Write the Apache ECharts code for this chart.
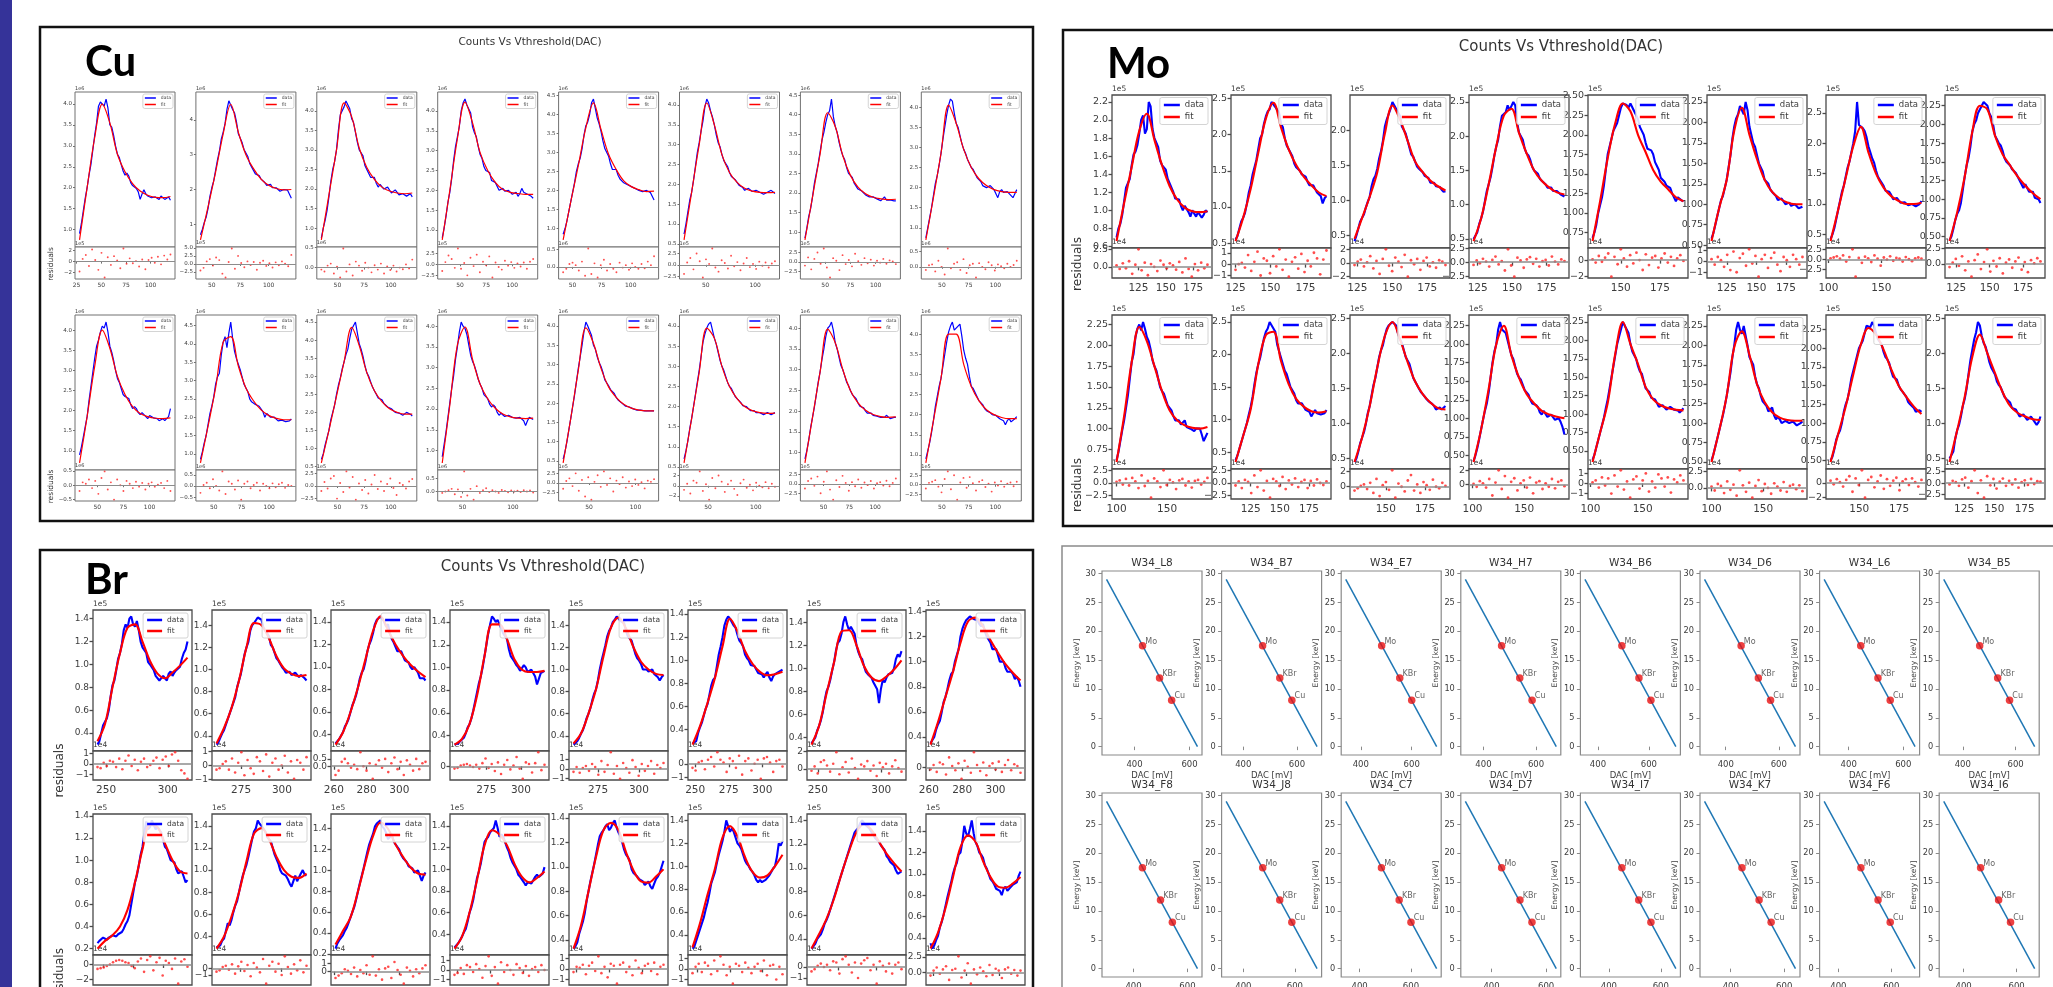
<!DOCTYPE html>
<html>
<head>
<meta charset="utf-8">
<script src="https://cdn.jsdelivr.net/npm/echarts@6/dist/echarts.min.js"></script>
<style>
html, body { margin: 0; padding: 0; background: #fff; }
#chart { width: 2053px; height: 987px; }
</style>
</head>
<body>
<div id="chart"></div>
<script>
// ---------------- Cu spectra (counts, 1e6) ----------------
const cuStart = [28, 40, 35, 33, 42, 28, 30, 35, 33, 38, 35, 30, 22, 25, 32, 35];
const cuEnd = [120, 120, 120, 120, 120, 120, 120, 120, 120, 120, 120, 120, 120, 120, 120, 120];
const cuFit = [
  [0.75,2.0,3.2,4.0,3.55,2.8,2.38,2.1,1.92,1.82,1.77,1.76,1.79],
  [0.55,1.5,2.5,3.6,4.45,3.65,3.0,2.6,2.3,2.12,2.03,1.99,2.0],
  [0.7,1.85,3.0,4.2,3.85,3.05,2.55,2.25,2.05,1.95,1.9,1.88,1.9],
  [0.75,2.0,3.3,4.22,3.7,2.95,2.5,2.2,2.02,1.95,1.92,1.9,1.9],
  [0.7,1.7,2.65,3.65,4.3,3.6,2.95,2.55,2.25,2.1,2.02,1.97,1.98],
  [0.6,1.8,3.0,4.05,3.5,2.75,2.3,2.05,1.9,1.83,1.8,1.79,1.8],
  [0.8,1.9,3.0,4.05,3.7,2.95,2.45,2.15,1.98,1.89,1.85,1.83,1.84],
  [0.7,1.75,2.85,4.05,3.6,2.95,2.5,2.22,2.05,1.95,1.9,1.88,1.88],
  [0.7,1.85,3.1,4.0,3.55,2.85,2.4,2.1,1.93,1.85,1.81,1.8,1.82],
  [0.75,1.75,2.8,4.05,4.2,3.4,2.8,2.45,2.2,2.05,1.97,1.93,1.93],
  [0.6,1.5,2.45,3.4,4.35,3.85,3.1,2.6,2.3,2.1,2.0,1.95,1.95],
  [0.7,2.1,3.55,3.98,3.2,2.6,2.25,2.02,1.88,1.81,1.78,1.77,1.78],
  [0.45,1.6,2.85,3.95,3.55,2.9,2.42,2.15,1.97,1.87,1.82,1.8,1.8],
  [0.6,1.7,2.85,3.95,3.7,3.0,2.5,2.2,2.0,1.9,1.85,1.83,1.84],
  [0.75,1.85,2.95,3.98,3.65,3.0,2.5,2.2,2.02,1.92,1.87,1.85,1.86],
  [0.8,1.85,2.9,4.0,4.0,3.25,2.7,2.35,2.12,2.0,1.93,1.9,1.9]
];
const cuData = [
  [0.9,1.15,1.45,1.75,2.0,2.3,2.55,2.9,3.25,3.55,3.95,4.05,4.05,3.95,4.12,3.9,3.5,3.45,3.25,3.0,2.8,2.72,2.55,2.4,2.3,2.35,2.28,2.12,2.05,2.05,1.98,1.9,1.72,1.85,1.95,1.85,1.8,1.82,1.76,1.8,1.78,1.75,1.72,1.8,1.78,1.72,1.74,1.78,1.7],
  [0.7,0.85,1.05,1.2,1.45,1.8,2.05,2.25,2.55,2.85,3.1,3.45,3.65,3.9,4.3,4.55,4.6,4.3,4.2,3.95,3.6,3.55,3.35,3.15,3.05,2.95,2.75,2.7,2.55,2.45,2.5,2.4,2.3,2.3,2.2,2.12,2.15,2.15,2.05,2.0,2.05,2.05,1.95,1.92,2.0,2.02,1.98,1.95,1.75],
  [0.75,1.0,1.2,1.45,1.8,2.2,2.5,2.7,3.0,3.5,3.9,3.95,4.1,4.25,4.3,4.05,3.8,3.7,3.45,3.2,3.0,3.0,2.85,2.6,2.5,2.45,2.3,2.35,2.3,2.15,2.05,2.12,2.1,2.0,1.95,2.05,2.0,1.9,1.9,1.98,1.95,1.85,1.8,1.88,1.9,1.82,1.85,1.88,1.8],
  [0.8,1.05,1.35,1.7,1.95,2.3,2.75,3.1,3.35,3.6,4.0,4.2,4.3,4.15,4.1,3.95,3.6,3.45,3.35,3.1,2.9,2.8,2.6,2.5,2.55,2.45,2.25,2.2,2.2,2.15,2.0,2.05,2.05,1.98,1.95,2.0,1.95,1.9,1.9,1.95,1.85,1.92,2.05,1.95,1.9,1.9,1.85,1.85,1.8],
  [0.85,1.0,1.2,1.45,1.7,1.95,2.2,2.5,2.7,2.85,3.1,3.45,3.7,3.8,4.0,4.3,4.4,4.15,3.9,3.75,3.55,3.3,3.1,3.05,2.9,2.7,2.55,2.6,2.55,2.4,2.3,2.3,2.2,2.15,2.15,2.15,2.1,2.05,2.05,2.05,2.0,1.95,1.97,2.02,2.0,1.95,1.95,1.9,1.75],
  [0.75,1.0,1.3,1.6,1.8,2.1,2.45,2.8,3.05,3.35,3.6,3.95,4.15,4.05,3.85,3.7,3.5,3.25,3.05,2.95,2.75,2.6,2.55,2.45,2.3,2.2,2.15,2.12,2.05,1.98,1.95,1.92,1.85,1.88,1.9,1.85,1.82,1.86,1.85,1.8,1.8,1.8,1.75,1.78,1.8,1.82,1.85,1.8,1.77],
  [0.85,1.1,1.4,1.6,1.9,2.25,2.5,2.75,3.05,3.35,3.55,3.8,4.0,4.1,4.4,3.95,3.7,3.55,3.3,3.1,2.95,2.85,2.65,2.5,2.5,2.4,2.25,2.2,2.1,2.05,2.05,2.0,1.95,1.95,1.9,1.85,1.9,1.88,1.85,1.82,1.8,1.85,1.9,1.82,1.8,1.82,1.85,1.8,1.8],
  [0.75,1.0,1.25,1.5,1.8,2.1,2.3,2.55,2.85,3.2,3.5,3.8,4.05,4.2,4.15,3.85,3.6,3.5,3.3,3.1,2.95,2.85,2.7,2.6,2.5,2.45,2.35,2.25,2.2,2.15,2.05,2.05,2.0,1.98,2.05,2.0,1.95,1.85,1.75,1.9,1.95,1.88,1.85,1.9,1.9,1.8,1.75,1.85,1.95],
  [0.9,1.1,1.35,1.6,1.85,2.25,2.6,2.95,3.3,3.6,3.75,3.95,4.1,4.05,4.2,3.95,3.6,3.45,3.25,3.0,2.8,2.7,2.55,2.4,2.35,2.38,2.3,2.15,2.05,2.1,2.05,1.95,1.9,1.95,1.95,1.85,1.8,1.88,1.9,1.82,1.8,1.8,1.75,1.78,1.8,1.75,1.75,1.85,2.05],
  [0.85,1.05,1.3,1.5,1.8,2.1,2.3,2.55,2.9,3.1,3.2,3.7,4.05,4.2,3.9,4.3,4.6,4.15,3.8,3.6,3.45,3.3,3.1,2.9,2.8,2.7,2.5,2.42,2.4,2.35,2.4,2.3,2.25,2.15,2.0,2.1,2.1,2.0,1.95,2.0,2.0,1.9,1.85,1.92,1.95,1.88,1.85,1.9,1.95],
  [0.7,0.85,1.1,1.3,1.5,1.8,2.0,2.2,2.5,2.75,2.95,3.2,3.4,3.6,3.75,4.05,4.3,4.35,4.5,4.2,3.9,3.75,3.55,3.3,3.1,3.0,2.85,2.7,2.6,2.5,2.4,2.4,2.35,2.25,2.2,2.15,2.1,2.1,2.05,2.0,2.0,1.98,1.95,1.92,1.95,2.0,2.0,1.95,1.9],
  [0.85,1.15,1.45,1.8,2.15,2.5,2.8,3.2,3.5,3.85,4.1,4.0,3.95,3.8,3.55,3.3,3.15,3.05,2.9,2.72,2.6,2.5,2.35,2.3,2.25,2.12,2.05,2.1,2.05,1.92,1.85,1.9,1.9,1.82,1.8,1.85,1.85,1.8,1.8,1.78,1.75,1.8,1.8,1.72,1.6,1.72,1.8,1.78,1.75],
  [0.55,0.75,1.0,1.3,1.6,1.9,2.2,2.55,2.9,3.2,3.5,3.85,4.1,4.0,3.95,3.75,3.5,3.4,3.2,3.05,2.95,2.8,2.6,2.55,2.45,2.35,2.3,2.25,2.15,2.08,2.05,2.0,1.95,1.92,1.9,1.9,1.88,1.85,1.85,1.82,1.8,1.82,1.85,1.8,1.8,1.8,1.78,1.8,1.8],
  [0.7,0.9,1.15,1.45,1.7,2.0,2.3,2.6,2.9,3.25,3.6,3.8,3.95,4.05,4.1,3.9,3.7,3.55,3.35,3.15,3.0,2.9,2.75,2.6,2.5,2.45,2.35,2.25,2.2,2.18,2.1,2.02,2.0,2.0,1.95,1.9,1.9,1.9,1.85,1.82,1.85,1.85,1.8,1.8,1.85,1.82,1.8,1.84,1.85],
  [0.85,1.05,1.3,1.6,1.85,2.1,2.4,2.7,2.95,3.25,3.5,3.8,4.0,4.05,4.15,3.95,3.65,3.5,3.3,3.1,3.0,2.85,2.7,2.62,2.5,2.4,2.35,2.3,2.2,2.12,2.1,2.08,2.0,1.95,1.98,1.95,1.9,1.86,1.88,1.88,1.85,1.82,1.85,1.9,1.9,1.82,1.8,1.85,1.85],
  [0.9,1.1,1.3,1.55,1.85,2.2,2.45,2.7,2.9,3.2,3.5,3.8,4.05,4.2,4.3,4.1,4.1,4.2,4.25,3.95,3.6,3.4,3.25,2.95,2.7,2.65,2.55,2.45,2.35,2.3,2.25,2.15,2.1,2.1,2.05,2.0,2.0,1.98,1.95,1.9,1.9,1.85,1.75,1.85,1.9,1.82,1.85,1.9,1.95]
];
const cuRes = [
  [-1.8,0.5,1.2,-0.8,2.2,0.3,-1.5,1.6,-2.9,0.8,-0.6,1.0,0.2,-1.2,2.4,-0.4,0.6,-0.3,0.1,-0.9,0.4,-1.4,0.3,0.7,-0.2,0.9,-0.5,1.1,0.4,1.3],
  [-2.0,-1.2,0.8,1.5,-0.5,2.0,1.2,-3.0,-4.2,0.6,4.8,-1.5,2.5,0.3,-1.0,0.8,-0.3,0.6,-1.8,0.4,1.0,-0.6,0.2,-1.1,0.5,-0.4,0.8,0.1,-0.7,2.8],
  [-0.05,-0.1,0.05,0.1,-0.15,0.02,-0.25,0.48,-0.1,0.08,-0.2,0.15,0.05,-0.08,0.12,0.0,-0.12,0.06,-0.05,0.1,-0.15,0.03,-0.06,0.05,-0.1,0.0,-0.04,0.08,-0.02,0.2],
  [-1.5,0.5,2.0,1.2,-0.8,3.6,-1.0,0.3,-2.5,1.5,-0.4,2.2,-1.8,0.6,-0.2,1.8,-3.0,0.4,-0.6,-1.2,0.8,-0.3,0.5,-0.8,0.2,-0.5,0.4,-1.0,0.6,1.2],
  [-0.15,-0.05,0.08,0.12,0.05,-0.1,0.15,-0.25,0.52,-0.2,0.1,-0.3,0.05,0.2,-0.1,0.08,-0.05,-0.15,0.12,-0.02,0.05,-0.08,0.1,0.0,-0.05,0.08,-0.04,0.15,0.05,0.3],
  [-2.0,0.5,1.5,-1.0,2.5,0.8,-2.8,1.2,0.2,3.6,-0.6,-1.5,1.0,0.4,-0.8,2.0,-0.3,0.6,-1.2,0.3,1.5,-0.5,0.2,-0.9,0.7,-0.2,0.5,-0.6,0.3,0.8],
  [-1.0,1.2,-2.0,0.8,2.5,-0.5,3.6,-1.5,-4.2,1.0,0.3,-2.2,1.8,-0.6,0.5,-1.2,2.2,0.2,-0.8,1.0,-0.4,0.6,-1.0,0.3,-0.2,0.8,-0.5,0.4,0.1,-0.6],
  [-0.1,0.05,0.08,-0.15,0.2,0.0,-0.25,0.6,-0.05,0.1,0.15,-0.1,0.25,-0.2,0.05,0.1,-0.35,0.12,0.0,-0.08,0.15,0.05,-0.12,0.08,0.02,-0.05,0.1,0.0,0.06,0.2],
  [-0.2,0.1,0.05,0.2,-0.1,0.15,-0.3,0.25,0.48,-0.15,0.1,-0.5,0.2,0.0,-0.2,0.15,0.05,-0.1,0.12,-0.05,0.08,-0.15,0.05,0.1,-0.05,0.02,0.08,-0.1,0.15,-0.2],
  [-0.3,0.05,0.15,-0.1,0.3,0.0,-0.2,0.65,-0.35,0.2,0.1,-0.15,0.25,-0.6,0.1,0.2,-0.1,0.05,0.15,-0.2,0.1,0.0,-0.1,0.12,-0.05,0.08,0.15,-0.08,0.05,0.0],
  [-1.0,0.8,-0.5,1.5,2.0,-2.5,0.6,-1.2,2.9,-0.3,1.8,-2.7,0.5,-0.8,1.2,-1.5,0.3,2.2,-0.6,0.9,-1.0,0.4,1.5,-0.4,-1.8,0.6,0.2,-0.5,0.9,1.4],
  [-0.05,0.0,0.05,0.1,-0.1,0.08,-0.2,0.75,-0.15,0.1,-0.3,0.2,-0.05,0.05,0.12,-0.02,0.05,0.0,-0.05,0.06,0.02,-0.03,0.04,0.0,0.03,-0.02,0.05,0.0,0.04,-0.04],
  [-1.5,0.5,1.2,-0.8,2.5,-2.0,0.8,-3.5,1.5,-4.3,0.3,2.0,-1.0,3.0,-0.5,1.2,-2.2,0.6,-0.3,1.5,-1.2,0.4,-0.8,0.9,-0.5,0.2,-1.4,0.6,0.3,1.0],
  [-0.8,0.4,-1.5,1.0,0.6,2.8,-1.0,0.3,-2.7,1.5,-0.5,2.0,0.8,-1.2,0.3,1.0,-0.6,-1.8,0.5,1.2,-0.4,0.2,-0.9,0.6,0.0,-0.3,0.7,-0.5,0.4,-0.2],
  [-1.2,0.8,1.5,-0.5,2.0,-2.5,0.6,3.4,-1.5,-4.2,1.0,-0.8,2.2,0.3,-1.8,0.5,-0.6,1.2,-1.0,0.4,-0.3,0.8,-1.2,0.2,0.5,-0.4,0.9,-0.6,0.3,1.5],
  [-1.0,0.5,0.8,1.2,-0.5,-2.0,1.5,3.5,-1.2,2.5,-3.9,0.6,1.8,-0.8,2.0,0.4,-1.5,0.8,1.2,-0.6,0.3,-1.8,0.6,-0.2,0.9,-0.5,0.3,0.6,-0.4,0.8]
];
const cuHalfTicks = ['0.5','1.0','1.5','2.0','2.5','3.0','3.5','4.0','4.5'];
const cuIntTicks = ['1','2','3','4','5'];
const cuYTicks = [cuHalfTicks, cuIntTicks, cuHalfTicks, cuHalfTicks, cuHalfTicks, cuHalfTicks, cuHalfTicks, cuHalfTicks,
  cuHalfTicks, cuHalfTicks, cuHalfTicks, cuHalfTicks, cuHalfTicks, cuHalfTicks, cuHalfTicks, cuHalfTicks];
const cuXTicks = [[25,50,75,100],[50,75,100],[50,75,100],[50,75,100],[50,75,100],[50,100],[25,50,75,100],[50,75,100],
  [50,75,100],[50,75,100],[50,75,100],[50,100],[50,100],[50,100],[50,75,100],[50,75,100]];
const cuResTicks = [['-2','0','2'],['-2.5','0.0','2.5','5.0'],['0.0','0.5'],['-2.5','0.0','2.5'],['0.0','0.5'],['-2.5','0.0','2.5'],['-2.5','0.0','2.5'],['0.0','0.5'],
  ['-0.5','0.0','0.5'],['-0.5','0.0','0.5'],['-2.5','0.0','2.5'],['0.0','0.5'],['-2.5','0.0','2.5'],['-2','0','2'],['-2.5','0.0','2.5'],['-2.5','0.0','2.5']];
const cuResExp = ['1e5','1e5','1e6','1e5','1e6','1e5','1e5','1e6','1e6','1e6','1e5','1e6','1e5','1e5','1e5','1e5'];

// ---------------- Mo spectra (counts, 1e5) ----------------
const moStart = [105, 125, 123, 122, 132, 112, 102, 120, 100, 112, 130, 101, 102, 100, 132, 113];
const moEnd = [188, 190, 188, 188, 190, 189, 188, 188, 190, 190, 188, 189, 189, 188, 189, 188];
const moFit = [
  [0.66,1.08,1.48,1.88,2.07,1.78,1.5,1.27,1.12,1.03,0.99,0.98,0.99],
  [0.53,0.85,1.25,1.75,2.22,2.44,2.1,1.8,1.58,1.42,1.3,1.2,1.15],
  [0.45,0.75,1.05,1.4,1.95,2.35,2.15,1.85,1.55,1.4,1.28,1.2,1.14],
  [0.47,0.8,1.3,1.85,2.3,2.4,2.05,1.75,1.5,1.35,1.25,1.18,1.15],
  [0.64,1.15,1.7,2.15,2.4,2.3,2.0,1.78,1.55,1.4,1.3,1.2,1.15],
  [0.55,0.95,1.3,1.9,2.18,1.85,1.55,1.3,1.15,1.07,1.02,1.0,1.0],
  [0.39,0.9,1.43,1.95,2.27,1.85,1.5,1.27,1.13,1.05,1.0,1.0,1.02],
  [0.44,0.82,1.3,1.9,2.25,2.2,1.85,1.6,1.45,1.3,1.18,1.08,1.0],
  [0.6,1.15,1.8,2.22,2.05,1.75,1.45,1.22,1.1,1.04,1.01,1.0,1.02],
  [0.35,0.75,1.16,1.85,2.3,2.35,1.9,1.55,1.32,1.2,1.13,1.11,1.13],
  [0.45,0.8,1.25,1.8,2.25,2.45,2.2,1.88,1.6,1.42,1.3,1.22,1.2],
  [0.41,0.85,1.4,2.0,2.25,1.85,1.55,1.33,1.2,1.1,1.05,1.02,1.0],
  [0.35,0.75,1.15,1.82,2.25,1.95,1.68,1.37,1.2,1.12,1.08,1.06,1.05],
  [0.5,0.9,1.35,1.98,2.18,1.88,1.5,1.27,1.14,1.07,1.04,1.03,1.03],
  [0.48,0.85,1.22,1.65,2.05,2.27,2.18,1.98,1.72,1.5,1.35,1.22,1.12],
  [0.45,0.9,1.38,1.95,2.27,2.0,1.72,1.45,1.25,1.15,1.1,1.06,1.05]
];
const moData = [
  [0.7,0.8,0.85,0.95,1.1,1.25,1.3,1.35,1.5,1.62,1.65,1.72,1.85,2.0,2.05,1.85,1.9,2.2,2.15,1.9,1.8,1.8,1.7,1.55,1.5,1.52,1.45,1.35,1.3,1.28,1.2,1.13,1.15,1.12,1.05,1.0,1.05,1.04,0.98,0.93,1.0,1.02,0.93,0.98,1.0,0.92,0.95,1.0,0.98],
  [0.55,0.6,0.7,0.8,0.85,0.92,1.05,1.2,1.3,1.45,1.55,1.65,1.8,1.95,2.0,2.15,2.25,2.32,2.35,2.45,2.45,2.38,2.4,2.3,2.15,2.1,1.95,1.85,1.8,1.78,1.7,1.6,1.55,1.55,1.5,1.45,1.45,1.42,1.35,1.3,1.3,1.3,1.25,1.2,1.2,1.15,1.05,1.12,1.15],
  [0.42,0.5,0.6,0.7,0.75,0.8,0.9,0.98,1.05,1.2,1.3,1.35,1.45,1.6,1.7,1.85,2.05,2.15,2.15,2.3,2.4,2.35,2.3,2.3,2.2,2.05,2.0,1.95,1.85,1.75,1.65,1.62,1.55,1.48,1.45,1.45,1.4,1.35,1.35,1.32,1.25,1.27,1.25,1.2,1.2,1.19,1.15,1.12,1.13],
  [0.5,0.52,0.6,0.72,0.8,0.9,1.05,1.2,1.3,1.4,1.55,1.72,1.85,1.95,2.15,2.3,2.3,2.35,2.45,2.38,2.4,2.5,2.45,2.2,2.05,2.05,1.95,1.82,1.75,1.72,1.65,1.55,1.5,1.5,1.45,1.38,1.35,1.35,1.3,1.25,1.25,1.25,1.2,1.18,1.2,1.18,1.15,1.14,1.12],
  [0.68,0.75,0.85,1.0,1.1,1.2,1.35,1.55,1.75,1.85,1.95,2.05,2.1,2.15,2.25,2.35,2.4,2.42,2.38,2.35,2.4,2.4,2.3,2.28,2.2,2.1,2.05,2.0,1.9,1.82,1.8,1.8,1.75,1.65,1.6,1.55,1.45,1.45,1.4,1.35,1.35,1.32,1.25,1.2,1.15,1.2,1.2,1.16,1.15],
  [0.58,0.65,0.75,0.85,0.95,1.05,1.1,1.2,1.3,1.45,1.6,1.8,1.95,2.05,2.1,2.2,2.2,2.1,2.25,2.15,1.95,1.85,1.75,1.7,1.6,1.5,1.45,1.4,1.3,1.3,1.25,1.18,1.15,1.15,1.1,1.05,1.05,1.07,1.05,1.0,1.0,1.02,0.98,0.96,1.0,1.0,0.95,0.94,0.97],
  [0.42,0.5,0.6,0.75,0.9,1.05,1.2,1.3,1.45,1.6,1.7,1.85,2.0,2.2,2.68,2.3,2.3,2.25,2.2,2.1,1.95,1.85,1.75,1.68,1.55,1.45,1.4,1.38,1.3,1.22,1.2,1.2,1.15,1.08,1.05,1.1,1.1,1.02,1.0,1.03,1.02,0.98,0.98,1.0,1.0,0.96,0.97,1.0,1.05],
  [0.45,0.5,0.6,0.72,0.8,0.85,0.95,1.12,1.3,1.45,1.55,1.7,1.9,2.0,2.05,2.15,2.2,2.22,2.3,2.3,2.25,2.15,2.1,2.0,1.85,1.8,1.75,1.72,1.65,1.55,1.5,1.5,1.45,1.4,1.4,1.35,1.3,1.28,1.2,1.15,1.2,1.15,1.1,1.12,1.1,1.02,1.0,1.0,0.95],
  [0.62,0.72,0.85,0.98,1.1,1.25,1.4,1.6,1.8,1.9,2.1,2.2,2.25,2.18,2.28,2.2,2.1,2.05,1.95,1.82,1.75,1.7,1.6,1.5,1.45,1.42,1.35,1.28,1.25,1.22,1.15,1.1,1.1,1.1,1.05,1.06,1.1,1.02,1.0,1.0,0.98,0.97,1.0,1.02,1.0,0.93,0.85,0.9,0.95],
  [0.38,0.45,0.55,0.65,0.75,0.85,0.95,1.08,1.2,1.35,1.55,1.72,1.85,1.95,2.1,2.25,2.35,2.4,2.5,2.45,2.45,2.35,2.15,2.05,1.95,1.85,1.75,1.7,1.6,1.5,1.45,1.4,1.3,1.25,1.25,1.25,1.2,1.15,1.15,1.12,1.05,1.1,1.15,1.1,1.1,1.08,1.05,1.1,1.15],
  [0.45,0.5,0.6,0.72,0.8,0.88,1.0,1.15,1.25,1.4,1.55,1.65,1.8,1.95,2.05,2.12,2.25,2.35,2.4,2.38,2.45,2.45,2.4,2.28,2.2,2.15,2.05,1.95,1.9,1.85,1.75,1.65,1.6,1.58,1.5,1.45,1.42,1.4,1.35,1.32,1.3,1.28,1.25,1.2,1.22,1.23,1.2,1.2,1.25],
  [0.42,0.5,0.6,0.72,0.85,0.98,1.1,1.2,1.35,1.55,1.75,1.9,2.0,2.2,2.3,2.2,2.2,2.15,2.05,1.95,1.85,1.8,1.7,1.6,1.55,1.52,1.45,1.38,1.35,1.32,1.25,1.2,1.2,1.18,1.15,1.08,1.05,1.1,1.1,1.02,1.0,1.05,1.05,0.98,1.0,1.0,0.95,0.88,0.78],
  [0.38,0.45,0.55,0.65,0.75,0.85,0.95,1.08,1.2,1.35,1.5,1.65,1.8,1.95,2.05,2.15,2.25,2.2,2.2,2.1,1.95,1.85,1.8,1.75,1.65,1.58,1.55,1.45,1.35,1.35,1.3,1.22,1.2,1.2,1.15,1.1,1.1,1.12,1.1,1.06,1.05,1.1,1.1,1.06,1.05,1.05,1.02,1.04,1.08],
  [0.52,0.6,0.7,0.8,0.9,1.0,1.1,1.22,1.35,1.5,1.65,1.85,2.0,2.2,2.3,2.2,2.15,2.25,2.25,2.0,1.85,1.85,1.75,1.6,1.5,1.45,1.35,1.28,1.25,1.22,1.15,1.15,1.2,1.1,1.05,1.08,1.05,1.0,1.0,1.03,1.05,1.0,0.98,1.02,1.02,0.97,0.95,1.0,1.02],
  [0.5,0.55,0.65,0.78,0.85,0.9,1.0,1.15,1.25,1.32,1.45,1.6,1.7,1.8,1.9,2.0,2.05,2.1,2.2,2.3,2.3,2.28,2.35,2.3,2.2,2.12,2.1,2.05,1.95,1.88,1.85,1.8,1.7,1.62,1.6,1.58,1.5,1.45,1.42,1.4,1.35,1.28,1.25,1.25,1.2,1.15,1.15,1.17,1.15],
  [0.5,0.52,0.6,0.78,0.9,0.98,1.1,1.25,1.35,1.5,1.7,1.9,2.05,2.2,2.3,2.45,2.4,2.25,2.15,2.1,2.0,1.88,1.8,1.78,1.7,1.6,1.55,1.52,1.45,1.38,1.35,1.35,1.3,1.22,1.2,1.2,1.15,1.1,1.1,1.13,1.12,1.05,1.05,1.1,1.08,1.02,0.98,1.02,1.1]
];
const moRes = [
  [0.2,-0.3,0.5,-0.2,0.8,-1.0,0.3,2.5,-0.5,0.6,-1.2,0.4,0.0,-0.6,0.9,0.3,-0.2,0.5,0.2,-0.4,0.7,-0.8,1.2,-0.3,-1.4,0.4,-0.5,0.6,-0.2,0.3],
  [-0.5,0.0,0.1,-0.3,0.8,-0.6,0.2,1.1,-1.0,0.5,0.3,-0.8,0.7,-0.2,1.3,-0.5,0.4,-1.1,0.2,0.6,-0.4,0.9,-0.7,0.3,-0.2,1.0,0.5,-0.9,0.4,1.2],
  [-0.3,0.2,0.5,-0.5,0.1,1.0,-0.8,0.3,-1.6,0.6,2.0,-0.4,-1.2,0.8,0.2,-0.6,1.2,-2.0,0.4,-0.2,0.6,-1.0,0.3,0.8,-0.5,0.1,-0.7,0.4,0.2,-0.3],
  [-0.5,0.3,-0.2,0.6,0.1,-0.8,0.4,1.0,-0.4,0.2,-1.5,2.3,-0.6,-2.6,0.8,0.3,-1.0,0.5,0.9,-0.3,0.6,-0.8,0.2,0.4,-0.6,1.0,0.1,-0.4,0.5,0.2],
  [0.1,-0.3,0.5,-0.2,0.3,0.8,-2.0,0.4,-0.5,1.3,0.2,-0.8,0.6,-0.4,0.9,0.0,-1.2,0.7,-0.6,0.3,0.5,-0.9,0.2,0.8,-0.3,0.4,-0.7,0.2,0.6,-0.1],
  [0.2,-0.3,0.4,0.1,-0.5,0.6,-0.8,0.9,-1.0,0.3,0.7,-0.4,1.1,-0.2,0.5,-1.4,0.2,0.6,-0.6,0.3,0.8,-0.3,-0.9,0.4,0.1,-0.5,0.6,0.2,-0.3,0.4],
  [0.3,0.5,0.8,0.2,1.0,-0.5,0.6,2.5,-4.2,0.4,-0.8,0.7,0.3,-0.6,1.0,0.2,-1.5,0.5,0.0,0.8,-0.3,0.4,0.2,-0.5,0.6,0.1,-0.4,0.3,0.5,0.2],
  [-0.5,0.2,0.8,-0.3,1.2,-1.0,0.4,-2.0,0.6,1.5,-0.8,0.3,2.3,-1.2,0.5,-0.4,0.9,-1.5,0.2,0.7,-0.6,0.4,1.0,-0.9,0.3,-1.3,0.6,0.1,0.9,0.4],
  [0.2,0.5,-0.3,0.8,-0.5,1.0,0.3,-1.0,1.5,-0.6,0.4,-2.9,0.9,0.3,-0.8,2.5,-0.4,0.6,0.1,-1.2,0.5,0.8,-0.5,0.3,-0.9,0.4,0.6,-0.3,0.2,1.0],
  [-0.5,0.3,-1.0,0.6,0.2,-2.0,1.5,-0.8,2.5,-1.5,0.4,-2.9,0.8,0.3,-0.6,1.2,-1.2,0.5,-0.3,0.9,-0.8,0.2,0.6,-1.0,0.4,-0.5,0.7,0.0,-0.4,0.3],
  [-0.5,-0.2,0.1,0.3,-0.3,0.5,-0.8,1.0,-1.2,0.2,0.6,-0.4,2.1,-1.4,0.4,0.0,-0.6,0.8,1.5,-0.5,0.3,-0.8,0.6,0.2,-0.4,0.9,0.0,-0.2,0.5,0.1],
  [0.1,-0.3,0.5,0.2,-0.4,0.8,-1.5,0.3,2.0,-0.6,1.2,-1.8,0.4,0.9,-0.8,0.2,0.6,-0.4,1.0,-1.2,0.3,0.5,-0.6,0.2,-0.3,0.8,-0.5,0.4,0.6,-0.2],
  [0.1,0.3,-0.4,0.6,-0.2,0.5,-1.0,0.8,-0.3,1.3,-0.6,0.2,-1.4,0.4,0.7,-0.5,0.3,1.0,-0.8,0.2,-0.4,0.9,0.5,-0.3,0.6,-0.9,0.4,0.1,0.8,0.3],
  [0.2,-0.4,0.6,0.3,-0.8,1.0,-0.3,0.5,-1.2,2.7,0.4,-0.6,0.8,-1.5,0.3,1.2,-0.5,0.6,0.0,-0.9,0.7,0.2,-0.4,0.9,-0.6,0.3,0.5,-0.2,0.4,-0.5],
  [0.3,-0.2,0.5,0.1,-0.5,0.4,0.9,-1.2,0.6,-0.3,1.7,-2.0,0.4,0.8,-0.6,0.2,1.0,-0.8,0.5,-0.4,0.3,0.7,-1.0,0.2,0.5,-0.3,0.6,0.1,-0.5,0.4],
  [-0.3,0.5,0.2,-0.6,0.8,1.2,-1.0,0.4,2.8,-2.2,0.6,-3.2,1.5,-0.5,0.9,-1.2,0.3,1.0,-0.6,0.5,-0.3,0.8,-1.0,0.2,0.6,-0.4,0.9,-0.2,0.4,0.3]
];
const moFifthTicks = ['0.5','1.0','1.5','2.0','2.5'];
const moTenthTicks = ['0.6','0.8','1.0','1.2','1.4','1.6','1.8','2.0','2.2','2.4'];
const moQuarterTicks = ['0.25','0.50','0.75','1.00','1.25','1.50','1.75','2.00','2.25','2.50'];
const moYTicks = [moTenthTicks, moFifthTicks, moFifthTicks, moFifthTicks, moQuarterTicks, moQuarterTicks, moFifthTicks, moQuarterTicks,
  moQuarterTicks, moFifthTicks, moFifthTicks, moQuarterTicks, moQuarterTicks, moQuarterTicks, moQuarterTicks, moFifthTicks];
const moXTicks = [[125,150,175],[125,150,175],[125,150,175],[125,150,175],[150,175],[125,150,175],[100,150],[125,150,175],
  [100,150],[125,150,175],[150,175],[100,150],[100,150],[100,150],[150,175],[125,150,175]];
const moResTicks = [['0.0','2.5'],['-1','0','1'],['-2','0','2'],['-2.5','0.0','2.5'],['-2','0'],['-1','0','1'],['-2.5','0.0','2.5'],['0.0','2.5'],
  ['-2.5','0.0','2.5'],['-2.5','0.0','2.5'],['0','2'],['0','2'],['-1','0','1'],['0.0','2.5'],['-2','0'],['-2.5','0.0','2.5']];
const moResExp = ['1e4','1e4','1e4','1e4','1e4','1e4','1e4','1e4','1e4','1e4','1e4','1e4','1e4','1e4','1e4','1e4'];

// ---------------- Br spectra (counts, 1e5) ----------------
const brStart = [243, 260, 261, 252, 260, 248, 245, 261, 256, 260, 261, 248, 248, 246, 258, 248];
const brEnd = [316, 315, 316, 317, 315, 315, 316, 315, 316, 316, 316, 316, 316, 316, 316, 316];
const brFit = [
  [0.33,0.48,0.8,1.1,1.32,1.35,1.2,1.03,0.92,0.88,0.93,0.99,1.06],
  [0.33,0.47,0.65,0.9,1.2,1.42,1.4,1.28,1.12,1.01,0.96,0.94,0.95],
  [0.31,0.42,0.6,0.82,1.07,1.32,1.45,1.33,1.2,1.1,1.02,0.96,0.91],
  [0.32,0.37,0.5,0.75,1.1,1.38,1.38,1.25,1.07,0.98,0.96,0.96,0.97],
  [0.33,0.42,0.6,0.82,1.12,1.38,1.47,1.37,1.2,1.07,1.0,0.96,0.95],
  [0.27,0.43,0.63,0.85,1.12,1.36,1.25,1.08,0.97,0.9,0.87,0.88,0.9],
  [0.34,0.5,0.78,1.05,1.32,1.33,1.2,1.02,0.92,0.89,0.93,0.99,1.07],
  [0.34,0.52,0.72,0.92,1.15,1.32,1.35,1.28,1.17,1.07,0.98,0.91,0.85],
  [0.2,0.27,0.32,0.4,0.55,0.8,1.1,1.32,1.3,1.15,1.0,0.9,0.88],
  [0.29,0.4,0.58,0.8,1.08,1.33,1.38,1.28,1.12,1.0,0.94,0.93,0.97],
  [0.29,0.42,0.55,0.8,1.08,1.33,1.46,1.4,1.25,1.13,1.03,0.97,0.96],
  [0.27,0.38,0.6,0.9,1.22,1.36,1.32,1.22,1.05,0.93,0.88,0.92,0.98],
  [0.33,0.52,0.8,1.08,1.3,1.36,1.3,1.12,0.97,0.88,0.87,0.92,0.98],
  [0.29,0.5,0.75,0.98,1.25,1.35,1.26,1.08,0.95,0.9,0.92,1.0,1.1],
  [0.32,0.44,0.57,0.74,0.95,1.14,1.3,1.37,1.32,1.22,1.12,1.04,0.97],
  [0.3,0.45,0.68,0.97,1.25,1.36,1.3,1.12,0.97,0.88,0.87,0.91,0.97]
];
const brData = [
  [0.3,0.33,0.4,0.47,0.5,0.53,0.6,0.72,0.82,0.86,0.95,1.05,1.1,1.18,1.3,1.35,1.32,1.4,1.42,1.35,1.33,1.38,1.3,1.2,1.15,1.15,1.1,1.02,1.0,1.0,0.95,0.9,0.9,0.86,0.85,0.9,0.88,0.86,0.92,0.94,0.9,0.93,0.95,0.94,0.98,1.05,1.1,1.13,1.2],
  [0.32,0.34,0.38,0.42,0.45,0.5,0.55,0.6,0.65,0.7,0.75,0.84,0.9,0.96,1.05,1.14,1.2,1.25,1.35,1.4,1.42,1.43,1.47,1.48,1.45,1.38,1.35,1.33,1.3,1.22,1.2,1.15,1.1,1.08,1.05,1.02,1.0,0.97,0.98,0.98,0.95,0.94,0.97,0.96,0.93,0.95,0.96,0.92,0.9],
  [0.32,0.33,0.36,0.39,0.42,0.47,0.5,0.54,0.6,0.66,0.7,0.75,0.82,0.9,0.95,0.98,1.05,1.14,1.2,1.24,1.3,1.38,1.42,1.43,1.45,1.44,1.4,1.36,1.38,1.3,1.25,1.22,1.18,1.14,1.15,1.14,1.1,1.06,1.05,1.04,1.0,0.98,1.0,0.99,0.95,0.9,0.9,0.9,0.88],
  [0.32,0.32,0.33,0.35,0.36,0.38,0.42,0.47,0.5,0.55,0.62,0.7,0.78,0.86,0.92,1.0,1.1,1.2,1.3,1.38,1.45,1.43,1.4,1.42,1.38,1.34,1.3,1.3,1.25,1.16,1.1,1.1,1.05,1.02,1.0,0.97,0.98,1.02,1.0,0.96,0.95,0.98,0.98,0.92,0.85,0.9,0.95,0.94,0.97],
  [0.32,0.33,0.35,0.38,0.42,0.45,0.5,0.56,0.6,0.65,0.72,0.78,0.82,0.9,1.0,1.08,1.15,1.22,1.3,1.35,1.38,1.43,1.45,1.48,1.47,1.44,1.45,1.42,1.35,1.3,1.3,1.26,1.2,1.14,1.1,1.08,1.05,1.0,1.0,1.0,0.98,0.97,1.0,0.96,0.95,0.93,0.9,0.93,0.95],
  [0.28,0.27,0.3,0.37,0.42,0.46,0.52,0.58,0.62,0.7,0.78,0.83,0.85,0.95,1.05,1.12,1.2,1.3,1.35,1.38,1.36,1.35,1.3,1.28,1.22,1.17,1.15,1.12,1.05,1.02,1.0,0.96,0.95,0.95,0.92,0.89,0.9,0.88,0.85,0.88,0.9,0.85,0.82,0.86,0.88,0.88,0.9,0.9,0.92],
  [0.35,0.36,0.4,0.46,0.5,0.55,0.62,0.72,0.8,0.84,0.9,0.98,1.05,1.15,1.22,1.24,1.3,1.4,1.45,1.38,1.33,1.36,1.35,1.3,1.2,1.14,1.1,1.08,1.02,0.97,0.95,0.95,0.92,0.88,0.88,0.82,0.7,0.82,0.9,0.88,0.92,0.95,0.95,0.96,1.0,1.08,1.12,1.1,1.15],
  [0.35,0.36,0.4,0.46,0.5,0.53,0.6,0.68,0.72,0.78,0.85,0.9,0.92,1.0,1.05,1.1,1.2,1.26,1.3,1.33,1.32,1.36,1.36,1.34,1.35,1.33,1.3,1.28,1.3,1.24,1.2,1.2,1.15,1.1,1.1,1.1,1.05,1.0,1.0,1.0,0.95,0.92,0.92,0.92,0.9,0.86,0.88,0.85,0.8],
  [0.25,0.27,0.28,0.3,0.29,0.28,0.3,0.31,0.32,0.33,0.31,0.33,0.34,0.35,0.38,0.42,0.45,0.5,0.6,0.7,0.8,0.86,0.95,1.05,1.12,1.25,1.35,1.28,1.3,1.36,1.32,1.28,1.3,1.3,1.25,1.18,1.12,1.1,1.05,1.0,1.0,0.98,0.92,0.88,0.88,0.9,0.85,0.8,0.82],
  [0.3,0.3,0.32,0.36,0.38,0.45,0.52,0.5,0.55,0.62,0.68,0.72,0.8,0.88,0.95,1.0,1.05,1.12,1.2,1.28,1.35,1.38,1.45,1.42,1.4,1.4,1.35,1.3,1.3,1.26,1.2,1.14,1.1,1.06,1.0,0.97,0.98,0.95,0.92,0.88,0.85,0.9,0.95,0.9,0.9,0.97,1.0,0.96,0.95],
  [0.25,0.3,0.33,0.34,0.38,0.42,0.45,0.5,0.55,0.6,0.65,0.72,0.8,0.88,0.95,1.02,1.1,1.18,1.25,1.3,1.35,1.42,1.45,1.45,1.48,1.42,1.4,1.36,1.3,1.32,1.35,1.28,1.25,1.24,1.2,1.15,1.12,1.1,1.08,1.04,1.05,1.02,0.98,0.97,1.0,0.95,0.9,0.95,0.98],
  [0.28,0.29,0.32,0.35,0.38,0.42,0.45,0.52,0.6,0.65,0.72,0.82,0.92,0.98,1.05,1.15,1.25,1.28,1.3,1.34,1.35,1.38,1.45,1.38,1.3,1.32,1.3,1.25,1.2,1.16,1.1,1.06,1.05,1.0,0.95,0.93,0.92,0.88,0.85,0.88,0.88,0.87,0.9,0.93,0.95,0.93,0.92,0.96,1.02],
  [0.33,0.35,0.38,0.45,0.5,0.55,0.62,0.72,0.8,0.88,0.95,1.02,1.1,1.18,1.25,1.28,1.3,1.33,1.35,1.3,1.32,1.36,1.38,1.32,1.28,1.25,1.2,1.14,1.1,1.08,1.05,0.98,0.95,0.94,0.92,0.9,0.9,0.88,0.85,0.86,0.88,0.84,0.82,0.86,0.9,0.92,0.95,1.0,1.05],
  [0.28,0.3,0.35,0.4,0.45,0.5,0.55,0.62,0.68,0.76,0.85,0.9,0.95,1.03,1.1,1.16,1.22,1.3,1.4,1.35,1.3,1.33,1.3,1.25,1.2,1.18,1.15,1.1,1.05,1.02,1.0,0.97,0.95,0.92,0.88,0.86,0.88,0.86,0.85,0.88,0.9,0.92,0.95,0.98,1.0,1.08,1.2,1.18,1.22],
  [0.32,0.33,0.36,0.4,0.42,0.44,0.48,0.53,0.56,0.6,0.65,0.7,0.75,0.8,0.85,0.9,0.95,1.0,1.05,1.1,1.15,1.2,1.25,1.3,1.32,1.34,1.38,1.4,1.38,1.36,1.35,1.33,1.3,1.28,1.25,1.24,1.22,1.19,1.18,1.15,1.1,1.08,1.05,1.04,1.02,0.98,0.95,0.96,0.97],
  [0.35,0.3,0.33,0.38,0.42,0.5,0.55,0.62,0.7,0.78,0.85,0.92,1.0,1.06,1.1,1.18,1.2,1.3,1.45,1.38,1.35,1.42,1.5,1.38,1.3,1.26,1.2,1.18,1.15,1.08,1.05,1.0,0.95,0.93,0.9,0.86,0.85,0.84,0.8,0.86,0.88,0.84,0.85,0.88,0.9,0.9,0.92,0.98,1.02]
];
const brRes = [
  [-0.3,-0.4,0.1,-0.2,0.3,0.2,-0.3,0.5,-0.5,0.3,0.8,-0.2,0.4,-0.6,0.2,0.5,-0.3,-0.1,0.3,0.6,-0.4,0.4,0.7,-0.2,0.9,1.1,0.3,-0.6,-0.9,-1.4],
  [-0.3,-0.2,0.1,0.3,-0.3,0.5,-0.5,0.2,0.95,-0.7,0.4,-0.2,-0.6,0.6,0.3,-0.4,0.8,-0.8,0.2,0.5,-0.3,0.0,0.7,-0.5,0.3,-0.95,0.4,0.2,-0.3,0.6],
  [-0.6,-0.3,0.3,0.5,0.2,-0.1,0.1,-0.2,0.95,0.0,-0.3,0.2,-0.85,0.1,0.4,-0.1,0.5,-0.4,0.2,0.6,-0.2,0.3,-0.6,0.4,0.1,-0.3,0.5,-0.2,0.2,0.3],
  [-0.3,-0.2,0.1,0.2,0.3,0.1,-0.1,0.2,-0.3,0.4,1.0,-0.2,0.3,-0.6,0.5,-1.0,0.2,0.8,-0.4,0.1,1.2,-0.3,-1.6,0.5,0.3,-0.8,0.4,1.8,-0.5,0.2],
  [-0.3,0.2,-0.4,0.1,0.3,-0.2,0.5,0.2,-0.6,0.8,-0.3,0.4,1.7,-0.5,0.3,-1.0,0.6,0.1,-0.4,0.9,0.2,-0.7,0.5,-0.2,0.3,0.8,-0.5,0.4,0.1,0.6],
  [-0.3,-0.5,0.1,0.2,-0.4,0.3,0.5,-0.2,0.85,0.3,0.1,-0.6,0.4,0.2,-0.3,0.6,-0.8,0.2,0.4,-0.5,0.0,0.3,-1.1,0.4,0.5,0.1,-0.6,0.2,0.3,-0.2],
  [-0.2,0.3,-0.5,0.8,1.0,0.4,-0.3,0.6,1.9,-0.6,0.2,0.8,-0.4,1.2,0.1,-1.1,0.5,0.3,0.9,-0.2,0.4,-0.8,0.7,0.2,0.6,-0.5,0.3,1.0,0.1,-0.3],
  [-0.2,0.3,-0.5,0.6,0.4,-0.8,1.2,0.2,-0.3,0.5,-1.3,0.8,0.1,-0.6,1.8,0.3,-0.4,0.6,-0.9,0.2,0.5,-0.2,0.7,-0.5,0.3,0.9,-0.3,0.4,0.2,-0.6],
  [-0.6,-0.5,-0.4,-0.2,0.0,0.3,0.5,0.6,0.5,0.3,0.2,-0.2,-0.5,0.4,0.8,-1.0,0.6,1.1,-0.8,0.3,0.9,-1.5,0.5,0.2,-0.6,0.8,-2.6,0.4,0.7,-0.3],
  [-0.5,-0.3,0.2,0.4,-0.2,0.6,-0.8,0.3,1.0,-0.4,0.5,-1.2,0.8,0.1,-0.6,1.4,-2.3,0.4,1.0,-0.5,0.7,-1.0,1.8,0.2,-0.8,0.6,-0.3,1.2,-0.6,0.4],
  [-0.8,-0.5,-0.2,0.3,0.1,-0.3,0.5,-0.6,0.2,-0.2,0.8,-0.4,1.9,-0.5,0.3,-1.0,0.4,0.6,-0.8,1.2,0.2,-0.4,-1.5,0.5,0.1,-0.6,0.3,-0.2,0.4,0.8],
  [-0.5,-0.3,0.2,-0.4,0.5,0.3,-0.2,0.6,0.1,-0.8,0.4,1.4,-0.6,0.3,-1.4,0.8,-0.2,0.5,0.0,-0.5,0.6,0.2,-0.3,0.4,-0.6,0.1,0.3,-0.2,0.5,0.0],
  [-0.3,0.2,0.1,0.4,-0.5,0.3,0.6,-0.2,1.2,-0.4,0.2,-0.8,0.5,0.3,-1.4,0.4,0.6,-0.3,0.2,-0.6,0.8,0.1,-0.4,0.3,0.5,-0.2,0.6,-0.5,0.2,0.4],
  [-0.4,0.2,0.5,-0.3,0.6,0.3,-0.5,0.8,-0.2,1.2,0.4,-0.6,0.2,-1.4,0.5,0.3,-0.3,0.6,0.1,-0.4,0.2,0.5,-0.2,0.8,-0.6,0.3,0.4,-1.0,0.2,-0.5],
  [-0.4,-0.2,0.1,0.3,0.0,0.2,-0.3,0.5,0.4,-0.6,0.7,0.95,0.2,-0.5,0.4,-1.0,0.3,0.6,0.8,-0.3,0.2,-1.5,0.5,0.1,-0.4,0.3,-0.6,0.2,0.4,-0.2],
  [-0.5,0.3,0.8,-0.2,0.5,1.0,-1.2,0.4,0.6,2.6,-0.8,0.3,1.5,-1.8,0.5,-0.3,0.8,0.2,-0.6,1.2,-0.4,0.6,0.3,-0.9,0.5,0.8,-0.2,0.4,-0.5,0.3]
];
const brTicks = ['0.2','0.4','0.6','0.8','1.0','1.2','1.4'];
const brYTicks = [brTicks, brTicks, brTicks, brTicks, brTicks, brTicks, brTicks, brTicks,
  brTicks, brTicks, brTicks, brTicks, brTicks, brTicks, brTicks, brTicks];
const brXTicks = [[250,300],[275,300],[260,280,300],[275,300],[275,300],[250,275,300],[250,300],[260,280,300],
  [260,280,300],[275,300],[260,280,300],[250,275,300],[250,275,300],[250,275,300],[275,300],[250,275,300]];
const brResTicks = [['-1','0','1'],['-1','0','1'],['-0.5','0.0','0.5','1.0'],['-1','0','1'],['-1','0','1'],['-1','0'],['0','2'],['-1','0','1'],
  ['-2','0'],['-2','-1','0','1'],['-1','0','1','2'],['-1','0','1'],['-1','0','1'],['-1','0','1'],['-1','0'],['0.0','2.5']];
const brResExp = ['1e4','1e4','1e4','1e4','1e4','1e4','1e4','1e4','1e4','1e4','1e4','1e4','1e4','1e4','1e4','1e4'];

// ---------------- energy calibration ----------------
const enNames = ['W34_L8','W34_B7','W34_E7','W34_H7','W34_B6','W34_D6','W34_L6','W34_B5',
  'W34_F8','W34_J8','W34_C7','W34_D7','W34_I7','W34_K7','W34_F6','W34_I6'];
const enLineE = [29, 0];
const enLineDac = [[298,629],[336,675],[341,698],[331,677],[349,706],[320,663],[310,643],[328,672],
  [300,637],[333,686],[346,700],[304,637],[308,658],[302,642],[346,690],[325,668]];
const enPeakNames = ['Mo', 'KBr', 'Cu'];
const enPeakE = [17.48, 11.92, 8.05];
const enPeakDac = [[429,491,535],[472,536,581],[482,553,600],[469,538,585],[494,561,608],[458,523,569],[444,507,552],[464,532,577],
  [433,500,544],[475,541,588],[485,554,600],[437,504,548],[450,515,562],[442,506,551],[485,550,596],[464,532,577]];
const enYTicks = ['0','5','10','15','20','25','30'];
const enXTicks = ['400','600'];

// ---------------- layout ----------------
const W = 2053, H = 987;
const FONT = 'DejaVu Sans';
const TXT = '#3c3c3c';
const cuLay = {left: 75, pitch: 120.9, w: 100, rows: [[92, 247, 279], [315, 470, 501]], frame: '#707070', bw: 1,
  tick: 5.5, xtick: 6, off: 5, offGap: 1, tickLen: 2, yMargin: 3, xMargin: 3, lw: 1.2, dot: 1.9, zw: 1,
  lg: {r: 2, t: 2, iw: 11, ih: 1.5, gap: 1.5, pad: [1.5, 2], fs: 4.5}, resLbl: {x: 51, fs: 7.5, dy: 1}};
const moLay = {left: 1112, pitch: 119, w: 100, rows: [[95, 248, 278], [315, 469, 499]], frame: '#4a4a4a', bw: 1.3,
  tick: 9.5, xtick: 10.5, off: 7.5, offGap: 2, tickLen: 3.5, yMargin: 4, xMargin: 5, lw: 2.1, dot: 2.8, zw: 1.6,
  lg: {r: 4, t: 2.5, iw: 16, ih: 2.5, gap: 3, pad: [3, 4], fs: 8.5}, resLbl: {x: 1078, fs: 12, dy: 1}};
const brLay = {left: 93, pitch: 119, w: 99, rows: [[610, 751, 780], [814, 955, 985]], frame: '#4a4a4a', bw: 1.3,
  tick: 9, xtick: 10.5, off: 7.5, offGap: 2, tickLen: 3.5, yMargin: 4, xMargin: 5, lw: 2.1, dot: 2.6, zw: 1.6,
  lg: {r: 4, t: 3, iw: 15, ih: 2.5, gap: 3, pad: [3, 4], fs: 7.5}, resLbl: {x: 60, fs: 12, dy: 5}};
const enLay = {left: 1102, pitch: 119.6, w: 100, rows: [[571, 755], [793, 977]]};

const grids = [], xAxis = [], yAxis = [], series = [], legend = [], graphic = [];

function padRange(lo, hi) { const s = hi - lo; return [lo - 0.05 * s, hi + 0.05 * s]; }
function spread(a, b, n) { const o = []; for (let k = 0; k < n; k++) o.push(a + k * (b - a) / (n - 1)); return o; }
function inRange(labels, r) { return labels.filter(s => +s >= r[0] - 1e-9 && +s <= r[1] + 1e-9); }
function fmt(labels) {
  const d = Math.max(0, ...labels.map(s => (s.split('.')[1] || '').length));
  return v => v.toFixed(d).replace('-', '\u2212');
}
function text(x, y, str, size, opt) {
  graphic.push(Object.assign({type: 'text', x: x, y: y, silent: true,
    style: {text: str, fontSize: size, fontFamily: FONT, fill: '#333', align: 'center', verticalAlign: 'middle',
      textAlign: 'center', textVerticalAlign: 'middle'}}, opt || {}));
}
function gridBox(left, top, width, height, color, bw) {
  return {left: left, top: top, width: width, height: height, show: true, borderColor: color, borderWidth: bw,
    backgroundColor: '#fff', containLabel: false, outerBoundsMode: 'none'};
}
function yAx(gi, range, labels, name, L) {
  const vals = labels.map(Number);
  return {gridIndex: gi, type: 'value', min: range[0], max: range[1],
    splitLine: {show: false}, axisLine: {show: false},
    axisTick: {show: true, length: L.tickLen, lineStyle: {color: L.frame, width: L.bw}, customValues: vals},
    axisLabel: {customValues: vals, formatter: fmt(labels.length ? labels : ['0']), fontSize: L.tick, color: TXT, fontFamily: FONT, margin: L.yMargin},
    name: name, nameLocation: 'end', nameGap: L.offGap,
    nameTextStyle: {fontSize: L.off, color: TXT, fontFamily: FONT, align: 'left'}};
}

function buildSpectra(P, L) {
  for (let i = 0; i < 16; i++) {
    const row = i < 8 ? 0 : 1, col = i % 8;
    const gx = L.left + col * L.pitch;
    const [t, m, b] = L.rows[row];
    const x0 = P.start[i], x1 = P.end[i];
    const d = P.data[i], f = P.fit[i], r = P.res[i];
    const xr = padRange(x0, x1);
    const yr = padRange(Math.min(...d, ...f), Math.max(...d, ...f));
    const rr = padRange(Math.min(...r), Math.max(...r));
    const gMain = grids.length, gRes = gMain + 1;
    grids.push(gridBox(gx, t, L.w, m - t, L.frame, L.bw));
    grids.push(gridBox(gx, m, L.w, b - m, L.frame, L.bw));
    const xT = P.xTicks[i].filter(v => v >= xr[0] && v <= xr[1]);
    xAxis.push({gridIndex: gMain, type: 'value', min: xr[0], max: xr[1], show: false});
    xAxis.push({gridIndex: gRes, type: 'value', min: xr[0], max: xr[1],
      axisLine: {show: false}, splitLine: {show: false},
      axisTick: {show: true, length: L.tickLen, lineStyle: {color: L.frame, width: L.bw}, customValues: xT},
      axisLabel: {customValues: xT, fontSize: L.xtick, color: TXT, fontFamily: FONT, margin: L.xMargin, formatter: v => String(v)}});
    yAxis.push(yAx(gMain, yr, inRange(P.yTicks[i], yr), P.mainExp, L));
    yAxis.push(yAx(gRes, rr, inRange(P.resTicks[i], rr), P.resExp[i], L));
    const dx = spread(x0, x1, d.length), fx = spread(x0, x1, f.length), rx = spread(x0, x1, r.length);
    series.push({type: 'line', name: 'data', xAxisIndex: gMain, yAxisIndex: gMain, symbol: 'none', silent: true, z: 2,
      data: dx.map((x, k) => [x, d[k]]), lineStyle: {color: '#0000ff', width: L.lw}, itemStyle: {color: '#0000ff'}});
    series.push({type: 'line', name: 'fit', xAxisIndex: gMain, yAxisIndex: gMain, symbol: 'none', silent: true, z: 3, smooth: 0.35,
      data: fx.map((x, k) => [x, f[k]]), lineStyle: {color: '#ff0000', width: L.lw}, itemStyle: {color: '#ff0000'}});
    series.push({type: 'scatter', name: 'residuals', xAxisIndex: gRes, yAxisIndex: gRes, silent: true, z: 3,
      symbolSize: L.dot, itemStyle: {color: '#ff2020'}, data: rx.map((x, k) => [x, r[k]]),
      markLine: {silent: true, symbol: 'none', animation: false, label: {show: false},
        lineStyle: {color: '#8c8c8c', width: L.zw, type: 'solid'}, data: [{yAxis: 0}]}});
    legend.push({orient: 'vertical', right: W - (gx + L.w) + L.lg.r, top: t + L.lg.t, data: ['data', 'fit'],
      icon: 'rect', itemWidth: L.lg.iw, itemHeight: L.lg.ih, itemGap: L.lg.gap, padding: L.lg.pad, selectedMode: false,
      textStyle: {fontSize: L.lg.fs, color: TXT, fontFamily: FONT},
      backgroundColor: 'rgba(255,255,255,0.85)', borderColor: '#d4d4d4', borderWidth: 1, borderRadius: 2, z: 6});
  }
  for (let row = 0; row < 2; row++) {
    const [, m, b] = L.rows[row];
    text(L.resLbl.x, (m + b) / 2 + L.resLbl.dy, 'residuals', L.resLbl.fs, {rotation: Math.PI / 2});
  }
}

buildSpectra({start: cuStart, end: cuEnd, data: cuData, fit: cuFit, res: cuRes, yTicks: cuYTicks, xTicks: cuXTicks,
  resTicks: cuResTicks, resExp: cuResExp, mainExp: '1e6'}, cuLay);
buildSpectra({start: moStart, end: moEnd, data: moData, fit: moFit, res: moRes, yTicks: moYTicks, xTicks: moXTicks,
  resTicks: moResTicks, resExp: moResExp, mainExp: '1e5'}, moLay);
buildSpectra({start: brStart, end: brEnd, data: brData, fit: brFit, res: brRes, yTicks: brYTicks, xTicks: brXTicks,
  resTicks: brResTicks, resExp: brResExp, mainExp: '1e5'}, brLay);

// energy calibration subplots
for (let i = 0; i < 16; i++) {
  const row = i < 8 ? 0 : 1, col = i % 8;
  const gx = enLay.left + col * enLay.pitch;
  const [t, b] = enLay.rows[row];
  const line = enLineDac[i];
  const xr = padRange(Math.min(...line), Math.max(...line));
  const yr = padRange(Math.min(...enLineE), Math.max(...enLineE));
  const gi = grids.length;
  grids.push(gridBox(gx, t, enLay.w, b - t, '#8a8a8a', 1.2));
  const xv = enXTicks.map(Number), yv = enYTicks.map(Number);
  xAxis.push({gridIndex: gi, type: 'value', min: xr[0], max: xr[1], splitLine: {show: false}, axisLine: {show: false},
    axisTick: {show: true, length: 3.5, lineStyle: {color: '#8a8a8a'}, customValues: xv},
    axisLabel: {customValues: xv, fontSize: 8.5, color: TXT, fontFamily: FONT, margin: 5},
    name: row === 0 ? 'DAC [mV]' : '', nameLocation: 'middle', nameGap: 16,
    nameTextStyle: {fontSize: 8.5, color: TXT, fontFamily: FONT}});
  yAxis.push({gridIndex: gi, type: 'value', min: yr[0], max: yr[1], splitLine: {show: false}, axisLine: {show: false},
    axisTick: {show: true, length: 3.5, lineStyle: {color: '#8a8a8a'}, customValues: yv},
    axisLabel: {customValues: yv, fontSize: 8.2, color: TXT, fontFamily: FONT, margin: 6},
    name: 'Energy [keV]', nameLocation: 'middle', nameGap: 21, nameRotate: 90,
    nameTextStyle: {fontSize: 7.6, color: TXT, fontFamily: FONT}});
  series.push({type: 'line', xAxisIndex: gi, yAxisIndex: gi, symbol: 'none', silent: true, z: 2,
    data: line.map((v, k) => [v, enLineE[k]]), lineStyle: {color: '#1f77b4', width: 1.5}});
  series.push({type: 'scatter', xAxisIndex: gi, yAxisIndex: gi, silent: true, z: 3, symbolSize: 7.5,
    itemStyle: {color: '#e81010'},
    data: enPeakDac[i].map((v, k) => ({name: enPeakNames[k], value: [v, enPeakE[k]]})),
    label: {show: true, formatter: '{b}', position: 'right', distance: 0, offset: [-1, -4],
      fontSize: 8, color: TXT, fontFamily: FONT}});
  text(gx + enLay.w / 2, t - 8, enNames[i], 10.5, {});
}

// panel frames, headings
graphic.push({type: 'rect', shape: {x: 0, y: 0, width: 12, height: H}, style: {fill: '#353399'}, silent: true});
graphic.push({type: 'rect', shape: {x: 40, y: 27, width: 993, height: 494}, style: {fill: 'none', stroke: '#111', lineWidth: 2.5}, silent: true, z: -1});
graphic.push({type: 'rect', shape: {x: 1063, y: 30, width: 1000, height: 496}, style: {fill: 'none', stroke: '#111', lineWidth: 2.5}, silent: true, z: -1});
graphic.push({type: 'rect', shape: {x: 40, y: 550, width: 993, height: 470}, style: {fill: 'none', stroke: '#111', lineWidth: 2.5}, silent: true, z: -1});
graphic.push({type: 'rect', shape: {x: 1062, y: 546, width: 1000, height: 470}, style: {fill: 'none', stroke: '#8a8a8a', lineWidth: 1.5}, silent: true, z: -1});
text(530, 42, 'Counts Vs Vthreshold(DAC)', 10.5, {});
text(1561, 47, 'Counts Vs Vthreshold(DAC)', 15, {});
text(543, 567, 'Counts Vs Vthreshold(DAC)', 15, {});
const big = {fontFamily: 'Lato', fontWeight: 'bold', fill: '#000', align: 'left', textAlign: 'left'};
text(85, 62, 'Cu', 42, {}); graphic[graphic.length - 1].style = Object.assign(graphic[graphic.length - 1].style, big);
text(1107, 64, 'Mo', 42, {}); graphic[graphic.length - 1].style = Object.assign(graphic[graphic.length - 1].style, big);
text(85, 580, 'Br', 42, {}); graphic[graphic.length - 1].style = Object.assign(graphic[graphic.length - 1].style, big);

const chart = echarts.init(document.getElementById('chart'), null, {renderer: 'canvas', width: W, height: H});
chart.setOption({
  backgroundColor: '#ffffff',
  animation: false,
  grid: grids,
  xAxis: xAxis,
  yAxis: yAxis,
  legend: legend,
  series: series,
  graphic: graphic
});
</script>
</body>
</html>
